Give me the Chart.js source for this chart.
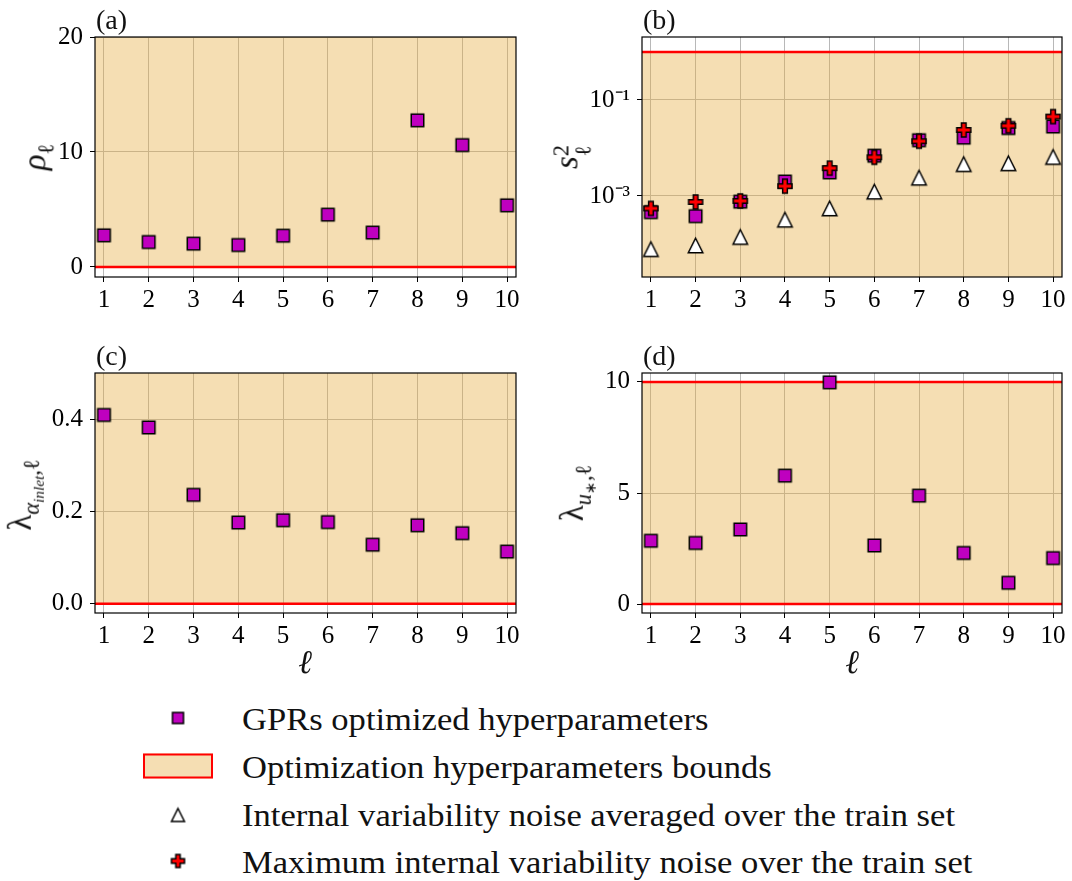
<!DOCTYPE html>
<html>
<head>
<meta charset="utf-8">
<script src="https://cdn.jsdelivr.net/npm/chart.js@4.4.0/dist/chart.umd.min.js"></script>
<style>
body { margin: 0; background: #fff; }
#wrap { position: relative; width: 1072px; height: 881px; font-family: 'Liberation Serif', serif; color: #111; }
canvas.panel { position: absolute; }
.lab { position: absolute; font-size: 28px; line-height: 1; transform: translateY(-50%); }
.ytitle { position: absolute; transform: translate(-50%, -50%) rotate(-90deg); white-space: nowrap; font-size: 33px; line-height: 1; }
.ytitle sub { font-size: 0.68em; vertical-align: -0.35em; }
.ss { display: inline-flex; flex-direction: column; font-size: 0.68em; line-height: 0.95; vertical-align: 0.38em; }
.xtitle { position: absolute; transform: translate(-50%, -50%); font-size: 33px; line-height: 1; font-style: italic; }
.leg { position: absolute; left: 242px; font-size: 32px; line-height: 1; transform-origin: 0 50%; transform: translateY(-50%) scaleX(1.08); white-space: nowrap; }
.hnd { position: absolute; transform: translate(-50%, -50%); }
</style>
</head>
<body>
<div id="wrap">
  <canvas id="ca" class="panel" width="540" height="320" style="left:0;top:0"></canvas>
  <canvas id="cb" class="panel" width="532" height="320" style="left:540px;top:0"></canvas>
  <canvas id="cc" class="panel" width="540" height="320" style="left:0;top:336px"></canvas>
  <canvas id="cd" class="panel" width="532" height="320" style="left:540px;top:336px"></canvas>

  <div class="lab" style="left:96px;top:20px">(a)</div>
  <div class="lab" style="left:643px;top:20px">(b)</div>
  <div class="lab" style="left:96px;top:356px">(c)</div>
  <div class="lab" style="left:643px;top:356px">(d)</div>

  <div class="ytitle" style="left:38px;top:157px"><i>ρ</i><sub>ℓ</sub></div>
  <div class="ytitle" style="left:572px;top:157px"><i>s</i><span class="ss"><span>2</span><span>ℓ</span></span></div>
  <div class="ytitle" style="left:25px;top:495px">λ<sub><i>α</i><sub><i>inlet</i></sub>,ℓ</sub></div>
  <div class="ytitle" style="left:577px;top:493px">λ<sub><i>u</i><sub>∗</sub>,ℓ</sub></div>

  <div class="xtitle" style="left:305px;top:662px">ℓ</div>
  <div class="xtitle" style="left:852px;top:662px">ℓ</div>

  <div id="h1" class="hnd" style="left:178px;top:720px"></div>
  <div class="hnd" style="left:178px;top:766px;width:66px;height:21px;background:rgba(230,173,65,0.4);border:2.5px solid #f00"></div>
  <div id="h3" class="hnd" style="left:178px;top:817px"></div>
  <div id="h4" class="hnd" style="left:178px;top:863px"></div>
  <div class="leg" style="top:719px">GPRs optimized hyperparameters</div>
  <div class="leg" style="top:767px">Optimization hyperparameters bounds</div>
  <div class="leg" style="top:815px">Internal variability noise averaged over the train set</div>
  <div class="leg" style="top:862px">Maximum internal variability noise over the train set</div>
</div>
<script>
// ell index on the x axis
var ell = [1, 2, 3, 4, 5, 6, 7, 8, 9, 10];
var xTicks = [1, 2, 3, 4, 5, 6, 7, 8, 9, 10];
var xSpan = [0, 11];

// (a) rho
var rhoGPR = [2.75, 2.17, 2.03, 1.91, 2.72, 4.55, 2.99, 12.75, 10.6, 5.36];
var rhoBounds = [0, 100];
var rhoTicks = [0, 10, 20];
var rhoLabels = ['0', '10', '20'];

// (b) s^2 (log)
var s2GPR = [4.6e-4, 3.8e-4, 7.6e-4, 2.0e-3, 3.1e-3, 6.9e-3, 1.45e-2, 1.64e-2, 2.6e-2, 2.8e-2];
var s2Avg = [7.8e-5, 9.3e-5, 1.4e-4, 3.2e-4, 5.5e-4, 1.23e-3, 2.4e-3, 4.6e-3, 4.8e-3, 6.5e-3];
var s2Max = [5.5e-4, 7.5e-4, 7.9e-4, 1.6e-3, 3.8e-3, 6.4e-3, 1.38e-2, 2.37e-2, 2.9e-2, 4.5e-2];
var s2Bounds = [1e-5, 1];
var s2Ticks = [1e-3, 1e-1];
var s2Labels = ['10⁻³', '10⁻¹'];

// (c) lambda alpha_inlet
var lamAlphaGPR = [0.409, 0.382, 0.236, 0.176, 0.181, 0.177, 0.128, 0.170, 0.153, 0.113];
var lamAlphaBounds = [0, 1];
var lamAlphaTicks = [0, 0.2, 0.4];
var lamAlphaLabels = ['0.0', '0.2', '0.4'];

// (d) lambda u*
var lamUGPR = [2.85, 2.75, 3.36, 5.78, 9.98, 2.64, 4.88, 2.30, 0.96, 2.07];
var lamUBounds = [0, 10];
var lamUTicks = [0, 5, 10];
var lamULabels = ['0', '5', '10'];

var magenta = '#bf00bf';
var boundFill = 'rgba(230,173,65,0.4)';
var gridColor = '#b8b8b8';

Chart.defaults.font.family = "'Liberation Serif', serif";
Chart.defaults.font.size = 25;
Chart.defaults.color = '#000';

function marker(kind, s) {
  var c = document.createElement('canvas');
  var pad = 2;
  c.width = c.height = Math.ceil(s + 2 * pad);
  var g = c.getContext('2d');
  var m = c.width / 2, h = s / 2;
  g.lineWidth = 1.5;
  g.strokeStyle = '#000';
  g.beginPath();
  if (kind == 'tri') {
    g.moveTo(m, m - h); g.lineTo(m + h, m + h); g.lineTo(m - h, m + h); g.closePath();
    g.fillStyle = '#fff';
  } else if (kind == 'plus') {
    var a = h / 3;
    var p = [[-a, -h], [a, -h], [a, -a], [h, -a], [h, a], [a, a], [a, h], [-a, h], [-a, a], [-h, a], [-h, -a], [-a, -a]];
    g.moveTo(m + p[0][0], m + p[0][1]);
    for (var i = 1; i < p.length; i++) g.lineTo(m + p[i][0], m + p[i][1]);
    g.closePath();
    g.fillStyle = '#f00';
  } else {
    g.rect(m - h, m - h, s, s);
    g.fillStyle = magenta;
  }
  g.fill();
  g.stroke();
  return c;
}

var sqImg = marker('sq', 12.5);
var triImg = marker('tri', 14.5);
var plusImg = marker('plus', 14);

document.getElementById('h1').appendChild(marker('sq', 11));
document.getElementById('h3').appendChild(marker('tri', 13));
document.getElementById('h4').appendChild(marker('plus', 13));

var frame = {
  id: 'frame',
  afterDraw: function (chart) {
    var a = chart.chartArea, ctx = chart.ctx;
    ctx.save();
    ctx.strokeStyle = '#000';
    ctx.lineWidth = 1.2;
    ctx.strokeRect(a.left, a.top, a.right - a.left, a.bottom - a.top);
    ctx.restore();
  }
};

function pts(ys) {
  return ell.map(function (x, i) { return {x: x, y: ys[i]}; });
}

function boundSets(b) {
  return [
    {data: xSpan.map(function (x) { return {x: x, y: b[0]}; }), borderColor: '#f00', borderWidth: 2.5,
     pointRadius: 0, fill: false, order: 8},
    {data: xSpan.map(function (x) { return {x: x, y: b[1]}; }), borderColor: '#f00', borderWidth: 2.5,
     pointRadius: 0, fill: '-1', backgroundColor: boundFill, order: 9}
  ];
}

function scatterSet(ys, img, order) {
  return {data: pts(ys), showLine: false, pointStyle: img, pointRadius: 8, order: order};
}

function makePanel(id, cfg) {
  new Chart(document.getElementById(id), {
    type: 'line',
    data: {datasets: boundSets(cfg.bounds).concat(cfg.sets)},
    options: {
      responsive: false,
      animation: false,
      events: [],
      layout: {padding: {top: 37, right: cfg.padRight, left: 0, bottom: 0}},
      plugins: {legend: {display: false}, tooltip: {enabled: false}},
      scales: {
        x: {
          type: 'linear', min: 0.8, max: 10.2,
          afterBuildTicks: function (ax) { ax.ticks = xTicks.map(function (v) { return {value: v}; }); },
          afterFit: function (ax) { ax.height = 43; },
          ticks: {padding: 3, autoSkip: false, maxRotation: 0, callback: function (v) { return String(v); }},
          grid: {color: gridColor, lineWidth: 1, tickLength: 5, tickColor: '#000'},
          border: {display: false}
        },
        y: {
          type: cfg.yType, min: cfg.yMin, max: cfg.yMax,
          afterBuildTicks: function (ax) { ax.ticks = cfg.ticks.map(function (v) { return {value: v}; }); },
          afterFit: function (ax) { ax.width = cfg.yWidth; },
          ticks: {padding: 7, autoSkip: false, callback: function (v, i) { return cfg.labels[i]; }},
          grid: {color: gridColor, lineWidth: 1, tickLength: 5, tickColor: '#000'},
          border: {display: false}
        }
      }
    },
    plugins: [frame]
  });
}

makePanel('ca', {
  bounds: rhoBounds, yType: 'linear', yMin: -0.87, yMax: 20, ticks: rhoTicks, labels: rhoLabels,
  yWidth: 95, padRight: 24, sets: [scatterSet(rhoGPR, sqImg, 1)]
});
makePanel('cb', {
  bounds: s2Bounds, yType: 'logarithmic', yMin: 2.05e-5, yMax: 2.05, ticks: s2Ticks, labels: s2Labels,
  yWidth: 102, padRight: 10,
  sets: [scatterSet(s2GPR, sqImg, 1), scatterSet(s2Avg, triImg, 2), scatterSet(s2Max, plusImg, 0)]
});
makePanel('cc', {
  bounds: lamAlphaBounds, yType: 'linear', yMin: -0.02, yMax: 0.5, ticks: lamAlphaTicks, labels: lamAlphaLabels,
  yWidth: 95, padRight: 24, sets: [scatterSet(lamAlphaGPR, sqImg, 1)]
});
makePanel('cd', {
  bounds: lamUBounds, yType: 'linear', yMin: -0.4, yMax: 10.4, ticks: lamUTicks, labels: lamULabels,
  yWidth: 102, padRight: 10, sets: [scatterSet(lamUGPR, sqImg, 1)]
});
</script>
</body>
</html>
